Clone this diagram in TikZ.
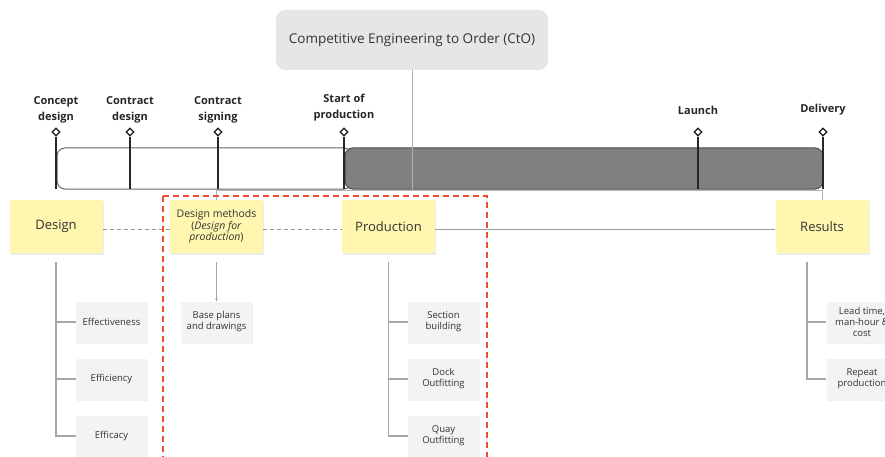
\documentclass[tikz,border=0pt]{standalone}
\usepackage{fontspec}
\setmainfont{Open Sans}
\usetikzlibrary{calc}
\usetikzlibrary{positioning}
\usetikzlibrary{shapes.geometric}
\usetikzlibrary{shadows}
\usetikzlibrary{arrows.meta}
\definecolor{notecolor}{HTML}{FFF6B0}
\definecolor{leafcolor}{HTML}{F2F3F5}
\definecolor{titlecolor}{HTML}{E6E6E6}
\definecolor{barcolor}{HTML}{808080}
\definecolor{framecolor}{HTML}{EF4B2E}
\definecolor{linkcolor}{HTML}{999999}
\definecolor{inkcolor}{HTML}{333333}
\tikzstyle{titlenode} = [fill=titlecolor, rounded corners=9pt, minimum width=272, minimum height=60, text=inkcolor, font=\fontsize{13.5}{16}\selectfont]
\tikzstyle{notenode} = [fill=notecolor, minimum width=93, minimum height=53, align=center, text=inkcolor, drop shadow={shadow xshift=1pt, shadow yshift=-1.5pt, opacity=0.15}]
\tikzstyle{leafnode} = [fill=leafcolor, minimum width=71, minimum height=41, align=center, text=inkcolor, font=\fontsize{9.5}{11}\selectfont, drop shadow={shadow xshift=0.8pt, shadow yshift=-1.2pt, opacity=0.12}]
\tikzstyle{msnode} = [draw=black!90, diamond, fill=white, line width=1.2pt, inner sep=0, minimum size=8]
\tikzstyle{mslabel} = [align=center, text=black!85, font=\bfseries\fontsize{11}{16}\selectfont]
\tikzstyle{msline} = [line width=1.8pt, black!85]
\tikzstyle{prebar} = [draw=black!60, fill=white, line width=1pt, rounded corners=8pt]
\tikzstyle{prodbar} = [draw=black!70, fill=barcolor, line width=1pt, rounded corners=8pt]
\tikzstyle{ctolink} = [draw=black!30, line width=1pt]
\tikzstyle{link} = [draw=linkcolor, line width=0.9pt]
\tikzstyle{dashlink} = [link, dash pattern=on 4pt off 3pt]
\tikzstyle{treeline} = [draw=black!35, line width=1.3pt]
\tikzstyle{focusframe} = [draw=framecolor, line width=1.6pt, dash pattern=on 6pt off 4pt]

\begin{document}
\begin{tikzpicture}[x=1pt, y=-1pt]
    \useasboundingbox (0,0) rectangle (885,457);
    \clip (0,0) rectangle (885,457);

    \node[titlenode] (cto) at (412,40) {Competitive Engineering to Order (CtO)};

    % timeline bars
    \coordinate (barbase) at (0,189);
    \draw[prebar] (57,148) rectangle (352,189);
    \draw[prodbar] (345,148) rectangle (823,189);

    % milestones
    \node[msnode] (ms_concept) at (56,132) {};
    \node[msnode] (ms_cdesign) at (130,132) {};
    \node[msnode] (ms_signing) at (218,132) {};
    \node[msnode] (ms_start) at (344,132) {};
    \node[msnode] (ms_launch) at (698,132) {};
    \node[msnode] (ms_delivery) at (823,132) {};
    \foreach \m in {concept, cdesign, signing, start, launch, delivery}
        \draw[msline] (ms_\m.south) -- (ms_\m.south |- barbase);
    \node[mslabel] (lab_concept) at ($(ms_concept)+(0,-22)$) {Concept\\design};
    \node[mslabel] (lab_cdesign) at ($(ms_cdesign)+(0,-22)$) {Contract\\design};
    \node[mslabel] (lab_signing) at ($(ms_signing)+(0,-22)$) {Contract\\signing};
    \node[mslabel] (lab_start) at ($(ms_start)+(0,-24)$) {Start of\\production};
    \node[mslabel] (lab_launch) at ($(ms_launch)+(0,-22)$) {Launch};
    \node[mslabel] (lab_delivery) at ($(ms_delivery)+(0,-22)$) {Delivery};

    % main notes
    \node[notenode, font=\fontsize{13}{16}\selectfont] (design) at (56,226.5) {Design};
    \node[notenode, font=\fontsize{10.5}{11.5}\selectfont] (dmethods) at (216.5,226.5) {Design methods\\(\textit{Design for}\\\textit{production})};
    \node[notenode, font=\fontsize{13}{16}\selectfont] (production) at (388.5,226.5) {Production};
    \node[notenode, font=\fontsize{13}{16}\selectfont] (results) at (822,226.5) {Results};

    \draw[dashlink] ($(design.east)+(0,3)$) -- ($(dmethods.west)+(0,3)$);
    \draw[dashlink] ($(dmethods.east)+(0,3)$) -- ($(production.west)+(0,3)$);
    \draw[link] ($(production.east)+(0,3)$) -- ($(results.west)+(0,3)$);

    % link from the title
    \coordinate (hub) at ($(cto.south)+(0,120)$);
    \draw[ctolink] (cto.south) -- (hub);
    \draw[ctolink] (dmethods.north) -- (dmethods.north |- hub) -- (results.north |- hub) -- (results.north);

    % leaves
    \node[leafnode] (effective) at ($(design)+(55.5,95.5)$) {Effectiveness};
    \node[leafnode] (efficient) at ($(effective)+(0,57)$) {Efficiency};
    \node[leafnode] (efficacy) at ($(efficient)+(0,57)$) {Efficacy};
    \node[leafnode] (baseplans) at ($(dmethods)+(0,95.5)$) {Base plans\\and drawings};
    \node[leafnode] (section) at ($(production)+(55,95.5)$) {Section\\building};
    \node[leafnode] (dock) at ($(section)+(0,57)$) {Dock\\Outfitting};
    \node[leafnode] (quay) at ($(dock)+(0,57)$) {Quay\\Outfitting};
    \node[leafnode] (leadtime) at ($(results)+(40,95.5)$) {Lead time,\\man-hour \&\\cost};
    \node[leafnode] (repeat) at ($(leadtime)+(0,57)$) {Repeat\\production};

    \draw[treeline] ($(design.south)+(0,9)$) |- (efficacy.west);
    \foreach \leaf in {effective, efficient}
        \draw[treeline] (\leaf.west -| design.south) -- (\leaf.west);
    \draw[treeline] ($(production.south)+(0,9)$) |- (quay.west);
    \foreach \leaf in {section, dock}
        \draw[treeline] (\leaf.west -| production.south) -- (\leaf.west);
    \coordinate (restrunk) at ($(results.south)+(-15,9)$);
    \draw[treeline] (restrunk) |- (repeat.west);
    \draw[treeline] (leadtime.west -| restrunk) -- (leadtime.west);
    \draw[treeline, -{Stealth[length=3pt, width=3pt]}] ($(dmethods.south)+(0,9)$) -- (baseplans.north);

    % focus frame
    \draw[focusframe] (163,196) rectangle (487,470);
\end{tikzpicture}
\end{document}
